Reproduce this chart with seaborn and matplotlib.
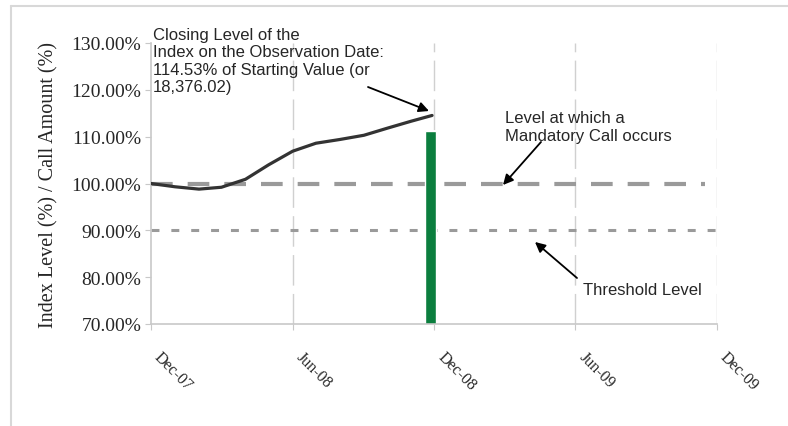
import matplotlib
matplotlib.use("Agg")
import matplotlib.pyplot as plt
from matplotlib.lines import Line2D
import seaborn as sns
import pandas as pd

# Index level path (% of starting value)
dates = pd.to_datetime([
    "2007-12-01", "2008-01-01", "2008-02-01", "2008-03-01", "2008-04-01",
    "2008-05-01", "2008-06-01", "2008-07-01", "2008-08-01", "2008-09-01",
    "2008-10-01", "2008-11-01", "2008-11-28",
])
index_level = [100.0, 99.3, 98.8, 99.2, 100.9, 104.0, 106.9, 108.6, 109.4,
               110.3, 111.8, 113.3, 114.53]

# Call amount bar on the observation date
call_date = pd.to_datetime(["2008-11-26"])
call_amount = [111.3]

call_level = 100.0
threshold_level = 90.0

x_ticks = pd.to_datetime(["2007-12-01", "2008-06-01", "2008-12-01",
                          "2009-06-01", "2009-12-01"])
y_ticks = [70, 80, 90, 100, 110, 120, 130]

sns.set_style("white")
serif = ["Liberation Serif", "DejaVu Serif"]
sans = ["Liberation Sans", "DejaVu Sans"]

W, H = 788, 427
fig = plt.figure(figsize=(W / 100, H / 100), dpi=100)
ax = fig.add_axes([151 / W, 1 - 325 / H, (717 - 151) / W, (325 - 44) / H])


def px(x, y):
    return (x / W, 1 - y / H)


# vertical grid
for d in x_ticks[1:]:
    ax.axvline(d, color="#d0d0d0", lw=1, ls=(0, (22, 6)), zorder=0)

ax.bar(call_date, call_amount, width=13, bottom=0, color="#0b7e3e", zorder=2)

ax.plot([x_ticks[0], pd.Timestamp("2009-11-15")], [call_level] * 2,
        color="#9a9a9a", lw=3, ls=(0, (5.2, 3.6)), zorder=1)
ax.plot([x_ticks[0], pd.Timestamp("2009-12-01")], [threshold_level] * 2,
        color="#9a9a9a", lw=2.2, ls=(0, (2.6, 3.9)), zorder=1)

sns.lineplot(x=dates, y=index_level, ax=ax, color="#333333", lw=2.3, zorder=3)

ax.set_xlim(x_ticks[0], x_ticks[-1])
ax.set_ylim(70, 130)
ax.set_xlabel("")
ax.set_yticks(y_ticks)
ax.set_yticklabels([f"{v:.2f}%" for v in y_ticks], family=serif, fontsize=14)
ax.set_xticks(x_ticks)
ax.set_xticklabels([d.strftime("%b-%y") for d in x_ticks], family=serif,
                   fontsize=11.5, rotation=-45, ha="left", va="bottom",
                   rotation_mode="anchor")
ax.tick_params(axis="x", pad=22, length=4, color="#c8c8c8", direction="out", bottom=True)
ax.tick_params(axis="y", pad=3, length=4, color="#c8c8c8", direction="out", left=True)
ax.set_ylabel("Index Level (%) / Call Amount (%)", family=serif, fontsize=14.5)
ax.yaxis.set_label_coords(-(151 - 58) / 566, 0.5)

for s in ["top", "right"]:
    ax.spines[s].set_visible(False)
for s in ["left", "bottom"]:
    ax.spines[s].set_color("#c8c8c8")
    ax.spines[s].set_linewidth(1.2)

arrow = dict(arrowstyle="-|>", color="black", lw=1.3, mutation_scale=15,
             shrinkA=0, shrinkB=0)

fig.text(153 / W, 1 - 28 / H,
         "Closing Level of the\nIndex on the Observation Date:\n"
         "114.53% of Starting Value (or\n18,376.02)",
         ha="left", va="top", family=sans, fontsize=12, linespacing=1.2)
fig.text(505 / W, 1 - 111 / H, "Level at which a\nMandatory Call occurs",
         ha="left", va="top", family=sans, fontsize=12, linespacing=1.25)
fig.text(583 / W, 1 - 283 / H, "Threshold Level",
         ha="left", va="top", family=sans, fontsize=12)

fig.add_artist(plt.Annotation("", xy=px(429, 112), xytext=px(368, 88),
                              xycoords="figure fraction", arrowprops=arrow))
fig.add_artist(plt.Annotation("", xy=px(503, 186), xytext=px(541, 143),
                              xycoords="figure fraction", arrowprops=arrow))
fig.add_artist(plt.Annotation("", xy=px(535, 243), xytext=px(577, 279),
                              xycoords="figure fraction", arrowprops=arrow))

# light outer frame (left and top only)
fig.add_artist(Line2D([11 / W, 11 / W], [0, 1 - 7 / H], color="#d8d8d8", lw=1.5))
fig.add_artist(Line2D([11 / W, 1], [1 - 7 / H, 1 - 7 / H], color="#d8d8d8", lw=1.5))

fig.savefig("out.png", dpi=100)
